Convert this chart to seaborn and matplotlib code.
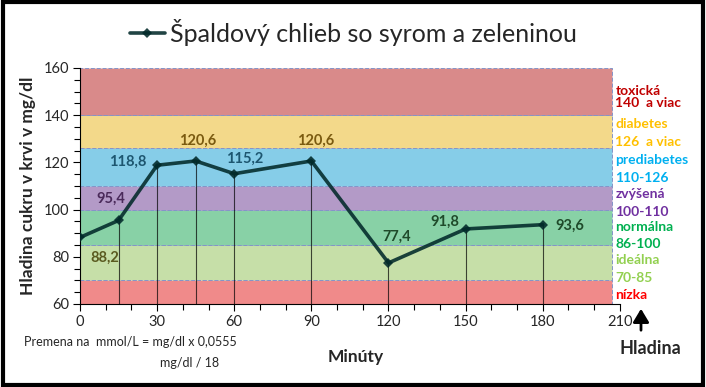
import matplotlib
matplotlib.use("Agg")
import matplotlib.pyplot as plt
import seaborn as sns
import pandas as pd
from matplotlib.patches import Rectangle, FancyArrowPatch
from matplotlib.ticker import MultipleLocator

# data
minutes = [0, 15, 30, 45, 60, 90, 120, 150, 180]
glucose = [88.2, 95.4, 118.8, 120.6, 115.2, 120.6, 77.4, 91.8, 93.6]
value_labels = ["88,2", "95,4", "118,8", "120,6", "115,2", "120,6", "77,4", "91,8", "93,6"]
series_name = "Špaldový chlieb so syrom a zeleninou"

band_low = [60, 70, 85, 100, 110, 126, 140]
band_high = [70, 85, 100, 110, 126, 140, 160]
band_colors = ["#f08a8a", "#c6dfa8", "#88d1a6", "#b39ac7", "#86cde8", "#f3d98a", "#d98a8a"]

zone_texts = ["toxická", "140  a viac", "diabetes", "126  a viac", "prediabetes", "110-126",
              "zvýšená", "100-110", "normálna", "86-100", "ideálna", "70-85", "nízka"]
zone_colors = ["#c00000", "#c00000", "#ffc000", "#ffc000", "#00b0f0", "#00b0f0",
               "#7030a0", "#7030a0", "#00b050", "#00b050", "#92d050", "#92d050", "#ff0000"]
zone_y = [150.2, 145.2, 136.3, 128.6, 121.0, 113.4, 106.6, 99.0, 92.6, 85.4, 78.6, 71.0, 63.8]

# label offsets (pixels) and colours
lab_off = [(25, -20), (-8, 22), (-29, 3), (2, 20), (10, 15), (4, 20), (8, 26), (-21, 7), (27, -1)]
lab_col = ["#5a5a20", "#4a2a5a", "#1d5670", "#7a5a10", "#1d5670", "#7a5a10", "#1f4a2a", "#1f4a2a", "#1f4a2a"]

sns.set_style("ticks")
plt.rcParams['font.family'] = ['Lato', 'DejaVu Sans']

df = pd.DataFrame({"min": minutes, "val": glucose})

fig = plt.figure(figsize=(7.06, 3.87), dpi=100)
ax = fig.add_axes([0.1133, 0.2145, 0.7647, 0.6098])

for lo, hi, c in zip(band_low, band_high, band_colors):
    ax.add_patch(Rectangle((0, lo), 207, hi - lo, facecolor=c, edgecolor="#8494c8",
                           linestyle=(0, (4, 2)), linewidth=0.7, zorder=1))

# drop lines
ax.vlines(minutes[1:], 60, glucose[1:], color="black", alpha=0.7, linewidth=0.8, zorder=2)

sns.lineplot(data=df, x="min", y="val", marker="D", markersize=5.5, color="#022a2a",
             linewidth=2.6, alpha=0.88, markeredgewidth=0, label=series_name, ax=ax, zorder=3)

for x, y, t, off, c in zip(minutes, glucose, value_labels, lab_off, lab_col):
    ax.annotate(t, (x, y), xytext=off, textcoords="offset pixels", ha="center", va="center",
                fontsize=10.5, fontweight="bold", color=c, zorder=4)

for t, c, y in zip(zone_texts, zone_colors, zone_y):
    ax.text(208.3, y, t, color=c, fontsize=10, fontweight="bold", ha="left", va="center",
            clip_on=False)

ax.set_xlim(0, 210)
ax.set_ylim(60, 160)
ax.xaxis.set_major_locator(MultipleLocator(30))
ax.xaxis.set_minor_locator(MultipleLocator(10))
ax.yaxis.set_major_locator(MultipleLocator(20))
ax.yaxis.set_minor_locator(MultipleLocator(5))
ax.tick_params(which="both", direction="out", color="black", width=0.8)
ax.tick_params(which="major", length=5, labelsize=10.5, pad=3)
ax.tick_params(which="minor", length=4)
ax.spines["top"].set_visible(False)
ax.spines["right"].set_visible(False)
for s in ["left", "bottom"]:
    ax.spines[s].set_color("black")
    ax.spines[s].set_linewidth(0.8)

ax.set_xlabel("")
ax.set_ylabel("Hladina cukru v krvi v mg/dl", fontsize=12.5, fontweight="bold", labelpad=5)

ax.legend(loc="center", bbox_to_anchor=(0.5, 1 - 32 / 387), bbox_transform=fig.transFigure,
          frameon=False, fontsize=18, handlelength=1.4, handletextpad=0.2)

fig.text(356 / 706, 1 - 357 / 387, "Minúty", fontsize=12.5, fontweight="bold", ha="center", va="center")
fig.text(650 / 706, 1 - 349 / 387, "Hladina", fontsize=13, fontweight="bold", ha="center", va="center")
fig.add_artist(FancyArrowPatch((641 / 706, 1 - 333 / 387), (641 / 706, 1 - 306 / 387),
               transform=fig.transFigure, arrowstyle="-|>,head_length=5,head_width=3",
               mutation_scale=1.6, color="black", linewidth=2.0))
fig.text(24 / 706, 1 - 342 / 387, "Premena na  mmol/L = mg/dl x 0,0555", fontsize=9, ha="left", va="center")
fig.text(160 / 706, 1 - 363 / 387, "mg/dl / 18", fontsize=9, ha="left", va="center")

fig.add_artist(Rectangle((0.004, 0.006), 0.992, 0.988, transform=fig.transFigure, fill=False,
                         edgecolor="black", linewidth=3))

fig.savefig("out.png", dpi=100)
